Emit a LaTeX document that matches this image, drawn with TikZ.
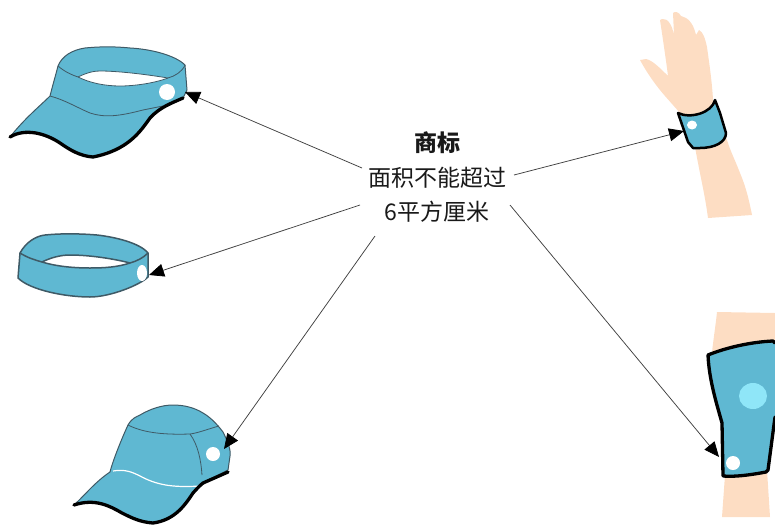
\documentclass[tikz,border=0pt]{standalone}
\usepackage{fontspec}
\setmainfont{Noto Sans CJK SC}
\usetikzlibrary{arrows.meta}
\definecolor{capblue}{HTML}{5FB8D2}
\definecolor{skin}{HTML}{FDDDC3}
\definecolor{pale}{HTML}{8FE6F8}
\definecolor{seam}{HTML}{3F5A66}
\tikzset{
  fabric/.style={fill=capblue,draw=seam,line width=1pt,line join=round},
  seamline/.style={draw=seam,line width=0.8pt},
  heavy/.style={draw=black,line width=3.3pt,line cap=round,line join=round},
  hole/.style={fill=white,draw=none},
  flesh/.style={fill=skin,draw=none},
  pointer/.style={draw=black!75,line width=0.75pt,-{Triangle[length=15pt,width=13pt,color=black]}},
  label/.style={inner sep=0pt,font=\fontsize{23}{23}\selectfont,text=black!90}
}
\begin{document}
\begin{tikzpicture}[x=1pt,y=-1pt]
\useasboundingbox (0,0) rectangle (775,525);
% visor
\path[fabric] (10,137) .. controls (25,118) and (40,106) .. (50,96) .. controls (53,84) and (56,74) .. (58,66)
  .. controls (62,56) and (72,50) .. (85,48) .. controls (105,46) and (120,47) .. (130,48)
  .. controls (150,49) and (175,55) .. (185,65) -- (187,90) -- (183,98)
  .. controls (172,103) and (160,107) .. (150,118) .. controls (140,132) and (128,150) .. (93,157)
  .. controls (80,156) and (70,150) .. (60,143) .. controls (45,133) and (25,128) .. (10,137) -- cycle;
\path[hole] (78,77) .. controls (88,72) and (95,71) .. (100,71) .. controls (120,71) and (150,75) .. (168,78)
  .. controls (155,83) and (135,86) .. (120,86) .. controls (105,86) and (90,83) .. (78,77) -- cycle;
\draw[seamline] (58,66) .. controls (65,72) and (72,75) .. (78,77) .. controls (90,83) and (105,86) .. (120,86)
  .. controls (135,86) and (155,83) .. (168,78) .. controls (175,76) and (182,72) .. (185,65);
\draw[seamline] (78,77) .. controls (88,72) and (95,71) .. (100,71) .. controls (120,71) and (150,75) .. (168,78);
\draw[seamline] (50,96) .. controls (65,100) and (78,108) .. (90,113) .. controls (105,118) and (120,116) .. (143,110) -- (163,106);
\draw[heavy] (10,137) .. controls (25,128) and (45,133) .. (60,143) .. controls (70,150) and (80,156) .. (93,157)
  .. controls (128,150) and (140,132) .. (150,118) .. controls (160,107) and (172,103) .. (183,98);
\fill[hole] (167,92) circle (8);
% headband
\path[fabric,line width=1.5pt] (20,253) .. controls (26,242) and (36,236) .. (45,235) .. controls (65,233) and (85,234) .. (97,235)
  .. controls (115,237) and (140,243) .. (148,253) -- (148,277)
  .. controls (140,285) and (110,297) .. (90,297) .. controls (65,297) and (30,290) .. (18,278) -- cycle;
\path[hole] (42,262) .. controls (50,258) and (60,255) .. (70,255) .. controls (90,255) and (115,259) .. (130,263)
  .. controls (118,267) and (105,268) .. (90,268) .. controls (72,268) and (55,266) .. (42,262) -- cycle;
\draw[seamline,line width=1.5pt] (20,253) .. controls (28,258) and (35,260) .. (42,262) .. controls (55,266) and (72,268) .. (90,268)
  .. controls (105,268) and (118,267) .. (130,263) .. controls (137,261) and (143,258) .. (148,253);
\draw[seamline,line width=1.5pt] (42,262) .. controls (50,258) and (60,255) .. (70,255) .. controls (90,255) and (115,259) .. (130,263);
\fill[hole] (142,273) ellipse [x radius=5,y radius=8];
% cap
\path[fabric] (74,505) .. controls (85,495) and (95,482) .. (110,472) .. controls (113,460) and (122,438) .. (128,425)
  .. controls (132,418) and (136,417) .. (140,415) .. controls (150,409) and (162,405) .. (173,405)
  .. controls (185,405) and (195,408) .. (203,413) .. controls (212,418) and (220,428) .. (223,432)
  .. controls (228,442) and (231,450) .. (230,456) -- (228,470) -- (203,483)
  .. controls (197,488) and (196,490) .. (193,493) .. controls (185,505) and (175,520) .. (153,523)
  .. controls (140,522) and (132,518) .. (122,513) .. controls (110,506) and (95,498) .. (74,505) -- cycle;
\draw[seamline] (128,425) .. controls (142,432) and (160,435) .. (190,434) .. controls (198,433) and (208,429) .. (219,426);
\draw[seamline] (190,434) .. controls (198,445) and (201,460) .. (202,475);
\draw[white,line width=1.2pt] (113,471) .. controls (125,469) and (132,472) .. (140,476) .. controls (155,484) and (170,488) .. (200,486);
\draw[heavy] (74,505) .. controls (95,498) and (110,506) .. (122,513) .. controls (132,518) and (140,522) .. (153,523)
  .. controls (175,520) and (185,505) .. (193,493) .. controls (196,490) and (197,488) .. (203,483) -- (228,472);
\fill[hole] (213,454) circle (7);
% hand
\path[flesh] (708,218) -- (752,215) .. controls (748,195) and (745,185) .. (740,173)
  .. controls (735,160) and (730,150) .. (728,143) -- (713,100) .. controls (712,80) and (708,55) .. (707,47)
  .. controls (705,38) and (703,32) .. (699,30) -- (696,35) .. controls (694,26) and (690,20) .. (686,18)
  -- (681,16) .. controls (679,12) and (675,11) .. (673,13) -- (674,35) .. controls (672,25) and (668,18) .. (662,19)
  -- (660,20) .. controls (663,40) and (666,60) .. (668,76) .. controls (660,68) and (652,60) .. (646,59)
  -- (640,60) .. controls (648,75) and (658,88) .. (665,96) -- (680,113) .. controls (685,125) and (690,135) .. (695,147)
  .. controls (700,175) and (705,195) .. (708,218) -- cycle;
\path[fill=capblue] (678,113) .. controls (690,119) and (712,113) .. (715,100) -- (720,113) -- (726,133)
  .. controls (726,142) and (715,148) .. (700,148) -- (693,148) -- (688,142) -- cycle;
\draw[heavy,line width=2.5pt] (678,113) .. controls (690,119) and (712,113) .. (715,100) -- (720,113) -- (726,133)
  .. controls (726,142) and (715,148) .. (700,148) -- (693,148) -- (688,142) -- cycle;
\fill[hole] (692,125) ellipse [x radius=5,y radius=4.5];
% knee
\path[flesh] (717,312) -- (775,313) -- (775,355) -- (712,352) .. controls (714,335) and (716,322) .. (717,312) -- cycle;
\path[flesh] (725,475) -- (767,470) -- (770,517) -- (722,517) -- cycle;
\path[fill=capblue] (708,355) .. controls (725,348) and (750,342) .. (773,341) -- (775,343) -- (775,417) -- (768,470)
  -- (766,472) .. controls (750,475) and (735,477) .. (723,476) -- (722,423) .. controls (717,405) and (709,380) .. (708,355) -- cycle;
\draw[heavy] (775,343) -- (773,341) .. controls (750,342) and (725,348) .. (708,355) .. controls (709,380) and (717,405) .. (722,423)
  -- (723,476) .. controls (735,477) and (750,475) .. (766,472) -- (768,470) -- (775,417);
\fill[hole] (733,463) circle (7);
\fill[pale] (753,396) ellipse [x radius=14,y radius=13];
% text
\node[label,font=\fontsize{23}{23}\selectfont\bfseries] (title) at (437,143) {商标};
\node[label] (area) at (437,178) {面积不能超过};
\node[label] (size) at (437,212) {6平方厘米};
% connectors
\coordinate (a1) at (362,168); \coordinate (b1) at (185,92);
\coordinate (a2) at (360,205); \coordinate (b2) at (149,275);
\coordinate (a3) at (375,236); \coordinate (b3) at (224,449);
\coordinate (a4) at (514,175); \coordinate (b4) at (684,131);
\coordinate (a5) at (510,205); \coordinate (b5) at (719,457);
\draw[pointer] (a1) -- (b1);
\draw[pointer] (a2) -- (b2);
\draw[pointer] (a3) -- (b3);
\draw[pointer] (a4) -- (b4);
\draw[pointer] (a5) -- (b5);
\end{tikzpicture}
\end{document}
